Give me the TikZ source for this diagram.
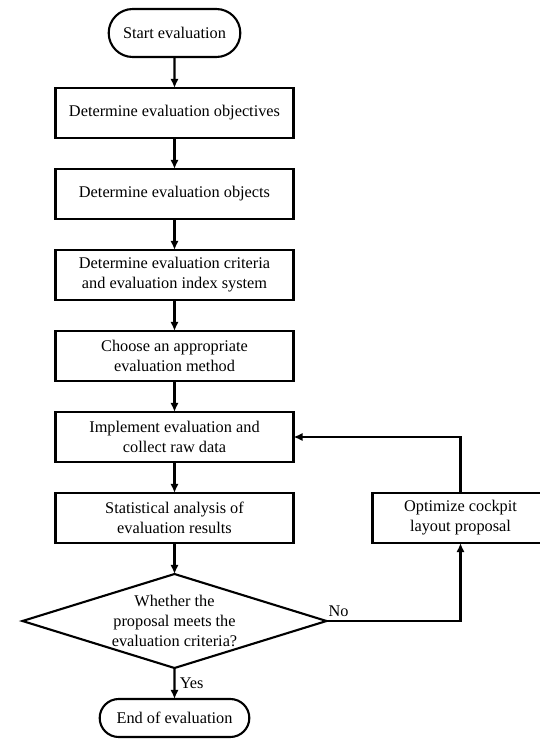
\documentclass[tikz,border=0pt]{standalone}
\usepackage{fontspec}
\setmainfont{Liberation Serif}
\usepackage{tikz}
\usetikzlibrary{arrows.meta, shapes.geometric, shapes.misc, positioning}
\tikzset{
  flowbox/.style={draw, rectangle, outer sep=0pt, minimum width=5.95cm, minimum height=1.25cm, align=center},
  terminal/.style={draw, rounded rectangle, outer sep=0pt, align=center},
  decision/.style={draw, diamond, inner sep=0pt, outer sep=0pt, minimum width=7.6cm, minimum height=2.35cm}
}

\begin{document}
\begin{tikzpicture}[>={Latex[length=2.3mm, width=2.1mm]}, line width=1.5pt, node distance=0.775cm, every node/.style={font=\fontsize{11.6}{14.2}\selectfont}]
\useasboundingbox (0,0) rectangle (13.475,-18.5);
\node[terminal, minimum width=3.525cm, minimum height=1.2cm] (start) at (4.3625,-0.825) {Start evaluation};
\node[flowbox, below=of start] (goal) {Determine evaluation objectives};
\node[flowbox, below=of goal] (obj) {Determine evaluation objects};
\node[flowbox, below=of obj] (crit) {Determine evaluation criteria\\and evaluation index system};
\node[flowbox, below=of crit] (meth) {Choose an appropriate\\evaluation method};
\node[flowbox, below=of meth] (impl) {Implement evaluation and\\collect raw data};
\node[flowbox, below=of impl] (stat) {Statistical analysis of\\evaluation results};
\node[decision, below=of stat] (check) {};
\node[align=center] (checktext) at (check) {Whether the\\proposal meets the\\evaluation criteria?};
\node[terminal, minimum width=3.975cm, minimum height=0.95cm, below=of check] (end) {End of evaluation};
\node[flowbox, minimum width=4.4cm, right=1.975cm of stat] (opt) {Optimize cockpit\\layout proposal};
% main flow
\foreach \a/\b in {start/goal, goal/obj, obj/crit, crit/meth, meth/impl, impl/stat, stat/check}
  \draw[->] (\a) -- (\b);
\draw[->] (check) -- node[right, inner sep=3pt] {Yes} (end);
% loop back
\draw[->] (check.east) -| node[pos=0.045, above, inner sep=2pt] {No} (opt.south);
\draw[->] (opt.north) |- (impl.east);
\end{tikzpicture}
\end{document}
